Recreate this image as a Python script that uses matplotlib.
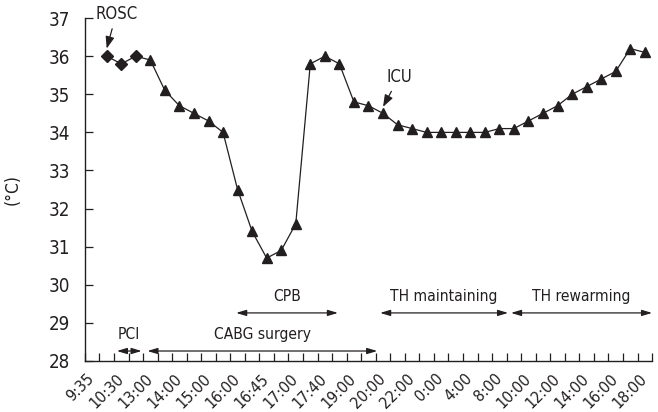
import numpy as np
import matplotlib.pyplot as plt
from matplotlib import font_manager as fm

# pick a narrow sans face if one is installed, else plain Liberation Sans
narrow = [f for f in fm.fontManager.ttflist
          if ('Narrow' in f.name or 'Condensed' in f.name or 'condensed' in str(f.stretch))
          and f.style == 'normal' and f.weight in (400, 'normal', 'regular', 'book')]
if narrow:
    plt.rcParams['font.family'] = [narrow[0].name, 'DejaVu Sans']
    plt.rcParams['font.stretch'] = narrow[0].stretch
    scale = 1.0
else:
    plt.rcParams['font.family'] = ['Liberation Sans', 'DejaVu Sans']
    scale = 0.9

# time labels shown under every other category
tick_labels = ["9:35", "10:30", "13:00", "14:00", "15:00", "16:00", "16:45", "17:00",
               "17:40", "19:00", "20:00", "22:00", "0:00", "4:00", "8:00", "10:00",
               "12:00", "14:00", "16:00", "18:00"]

# body temperature (°C), one value per category starting at category 1
temps = [36.0, 35.8, 36.0, 35.9, 35.1, 34.7, 34.5, 34.3, 34.0, 32.5,
         31.4, 30.7, 30.9, 31.6, 35.8, 36.0, 35.8, 34.8, 34.7, 34.5,
         34.2, 34.1, 34.0, 34.0, 34.0, 34.0, 34.0, 34.1, 34.1, 34.3,
         34.5, 34.7, 35.0, 35.2, 35.4, 35.6, 36.2, 36.1]
n_pre = 3  # first points drawn as diamonds

# treatment phases (category span) and which row of arrows they sit on
phase_names = ["PCI", "CABG surgery", "CPB", "TH maintaining", "TH rewarming"]
phase_start = [1.7, 3.8, 9.9, 19.8, 28.8]
phase_end = [3.4, 19.6, 16.9, 28.6, 38.5]
phase_row = [28.26, 28.26, 29.26, 29.26, 29.26]

ink = '#231f20'
x = np.arange(1, len(temps) + 1)

fig = plt.figure(figsize=(6.58, 4.12), dpi=100)
ax = fig.add_axes([0.129, 0.124, 0.862, 0.832])

ax.plot(x, temps, color=ink, lw=0.9, zorder=2)
ax.plot(x[:n_pre], temps[:n_pre], 'D', color=ink, ms=6, zorder=3)
ax.plot(x[n_pre:], temps[n_pre:], '^', color=ink, ms=7.5, zorder=3)

ax.set_xlim(-0.5, len(temps) + 0.5)
ax.set_ylim(28, 37)
ax.set_yticks(range(28, 38))
ax.spines[['top', 'right']].set_visible(False)
for s in ax.spines.values():
    s.set_color(ink)
    s.set_linewidth(1.0)

ax.set_xticks(np.arange(0, 2 * len(tick_labels), 2))
ax.set_xticklabels(tick_labels, rotation=45, ha='right', va='center',
                   rotation_mode='anchor', fontsize=11.5 * scale, color=ink)
ax.set_xticks(np.arange(-0.5, len(temps) + 1), minor=True)
ax.tick_params(axis='x', which='major', length=0, pad=11)
ax.tick_params(axis='x', which='minor', direction='in', length=6, width=0.9, color=ink)
ax.tick_params(axis='y', direction='in', length=6, width=0.9, color=ink,
               labelsize=13.5 * scale, labelcolor=ink, pad=10.5)

ax.set_ylabel('(°C)', fontsize=12.5 * scale, color=ink)
ax.yaxis.set_label_coords(-0.111, 0.5)

# event labels
ax.annotate('ROSC', xy=(1, temps[0] + 0.2), xytext=(1.65, 37.1), fontsize=12 * scale,
            color=ink, ha='center', va='center', annotation_clip=False,
            arrowprops=dict(arrowstyle='-|>,head_length=0.6,head_width=0.22',
                            color=ink, lw=0.9, shrinkA=2, shrinkB=0))
ax.annotate('ICU', xy=(20, temps[19] + 0.17), xytext=(21.1, 35.45), fontsize=12 * scale,
            color=ink, ha='center', va='center',
            arrowprops=dict(arrowstyle='-|>,head_length=0.6,head_width=0.22',
                            color=ink, lw=0.9, shrinkA=2, shrinkB=0))

# phase arrows
for name, a, b, row in zip(phase_names, phase_start, phase_end, phase_row):
    ax.annotate('', xy=(a, row), xytext=(b, row), annotation_clip=False,
                arrowprops=dict(arrowstyle='<|-|>,head_length=0.6,head_width=0.18',
                                color=ink, lw=0.9, shrinkA=0, shrinkB=0))
    ax.text((a + b) / 2, row + 0.44, name, fontsize=11.2 * scale, color=ink,
            ha='center', va='center')

fig.savefig('out.png', dpi=100)
